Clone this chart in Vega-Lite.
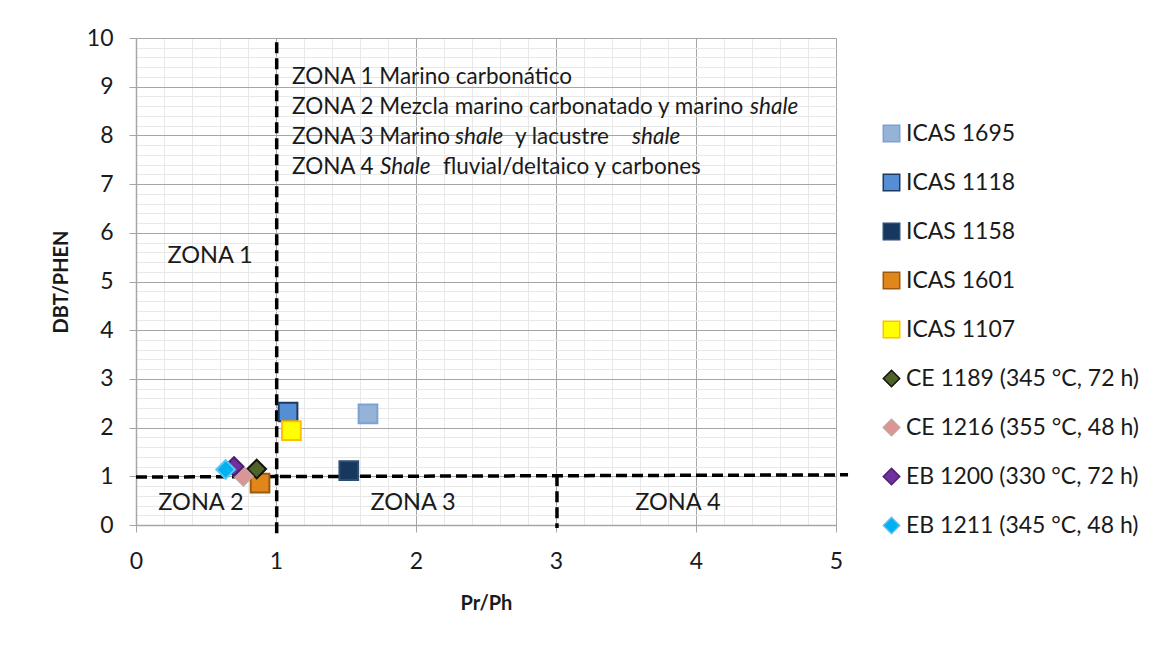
{
  "$schema": "https://vega.github.io/schema/vega-lite/v6.json",
  "width": 700,
  "height": 487,
  "autosize": {"type": "none"},
  "padding": {"left": 136, "top": 38, "right": 338, "bottom": 121},
  "background": "white",
  "datasets": {
    "puntos": [
      {"serie": "ICAS 1695", "prph": 1.657, "dbt": 2.28},
      {"serie": "ICAS 1118", "prph": 1.086, "dbt": 2.32},
      {"serie": "ICAS 1158", "prph": 1.52, "dbt": 1.115},
      {"serie": "ICAS 1601", "prph": 0.886, "dbt": 0.86},
      {"serie": "ICAS 1107", "prph": 1.11, "dbt": 1.94},
      {"serie": "CE 1189 (345 °C, 72 h)", "prph": 0.862, "dbt": 1.15},
      {"serie": "CE 1216 (355 °C, 48 h)", "prph": 0.767, "dbt": 1.0},
      {"serie": "EB 1200 (330 °C, 72 h)", "prph": 0.70, "dbt": 1.2},
      {"serie": "EB 1211 (345 °C, 48 h)", "prph": 0.64, "dbt": 1.14}
    ],
    "limites": [
      {"x": 1.005, "y": -0.17, "x2": 1.005, "y2": 10},
      {"x": 0, "y": 0.985, "x2": 5.086, "y2": 1.03},
      {"x": 3.007, "y": 1.02, "x2": 3.007, "y2": -0.06}
    ],
    "texto": [
      {"tx": 1.114, "ty": 9.2, "label": "ZONA 1 Marino carbonático"},
      {"tx": 1.114, "ty": 8.583, "label": "ZONA 2 Mezcla marino carbonatado y marino"},
      {"tx": 1.114, "ty": 7.967, "label": "ZONA 3 Marino"},
      {"tx": 2.707, "ty": 7.967, "label": "y  lacustre"},
      {"tx": 1.114, "ty": 7.351, "label": "ZONA 4"},
      {"tx": 2.193, "ty": 7.351, "label": "fluvial/deltaico  y carbones"}
    ],
    "cursiva": [
      {"tx": 4.386, "ty": 8.583, "label": "shale"},
      {"tx": 2.279, "ty": 7.967, "label": "shale"},
      {"tx": 3.543, "ty": 7.967, "label": "shale"},
      {"tx": 1.743, "ty": 7.351, "label": "Shale"}
    ],
    "zonas": [
      {"tx": 0.529, "ty": 5.524, "label": "ZONA 1"},
      {"tx": 0.464, "ty": 0.452, "label": "ZONA 2"},
      {"tx": 1.979, "ty": 0.452, "label": "ZONA 3"},
      {"tx": 3.871, "ty": 0.452, "label": "ZONA 4"}
    ]
  },
  "resolve": {"axis": {"x": "independent", "y": "independent"}},
  "layer": [
    {
      "data": {"name": "limites"},
      "mark": {"type": "rule", "color": "black", "strokeWidth": 3.5, "strokeDash": [11, 5]},
      "encoding": {
        "x": {"field": "x", "type": "quantitative", "scale": {"domain": [0, 5], "nice": false, "zero": false},
          "axis": {"orient": "top", "values": [0.2,0.4,0.6,0.8,1.2,1.4,1.6,1.8,2.2,2.4,2.6,2.8,3.2,3.4,3.6,3.8,4.2,4.4,4.6,4.8],
            "grid": true, "gridColor": "#E8E8E8", "gridWidth": 1, "labels": false, "ticks": false, "domain": false, "title": null}},
        "y": {"field": "y", "type": "quantitative", "scale": {"domain": [0, 10], "nice": false, "zero": false},
          "axis": {"orient": "right", "values": [0.2,0.4,0.6,0.8,1.2,1.4,1.6,1.8,2.2,2.4,2.6,2.8,3.2,3.4,3.6,3.8,4.2,4.4,4.6,4.8,5.2,5.4,5.6,5.8,6.2,6.4,6.6,6.8,7.2,7.4,7.6,7.8,8.2,8.4,8.6,8.8,9.2,9.4,9.6,9.8],
            "grid": true, "gridColor": "#E8E8E8", "gridWidth": 1, "labels": false, "ticks": false, "domain": false, "title": null}},
        "x2": {"field": "x2"},
        "y2": {"field": "y2"}
      }
    },
    {
      "data": {"name": "texto"},
      "mark": {"type": "text", "align": "left", "baseline": "middle", "fontSize": 22.5, "font": "Lato", "color": "#1a1a1a"},
      "encoding": {
        "x": {"field": "tx", "type": "quantitative",
          "axis": {"orient": "bottom", "values": [0,1,2,3,4,5], "grid": true, "gridColor": "#A6A6A6", "gridWidth": 1,
            "domainColor": "#A6A6A6", "domainWidth": 1.5, "tickColor": "#A6A6A6", "tickSize": 7,
            "labelFont": "Lato", "labelFontSize": 23, "labelColor": "#1a1a1a", "labelPadding": 18, "labelFlush": false,
            "title": "Pr/Ph", "titleFont": "Lato", "titleFontSize": 20, "titleFontWeight": "bold", "titleColor": "#1a1a1a",
            "titleY": 78, "titleBaseline": "middle"}},
        "y": {"field": "ty", "type": "quantitative",
          "axis": {"orient": "left", "values": [0,1,2,3,4,5,6,7,8,9,10], "grid": true, "gridColor": "#A6A6A6", "gridWidth": 1,
            "domainColor": "#A6A6A6", "domainWidth": 1.5, "tickColor": "#A6A6A6", "tickSize": 7,
            "labelFont": "Lato", "labelFontSize": 23, "labelColor": "#1a1a1a", "labelPadding": 16, "labelFlush": false,
            "title": "DBT/PHEN", "titleFont": "Lato", "titleFontSize": 20, "titleFontWeight": "bold", "titleColor": "#1a1a1a",
            "titleX": -75, "titleBaseline": "middle"}},
        "text": {"field": "label"}
      }
    },
    {
      "data": {"name": "cursiva"},
      "mark": {"type": "text", "align": "left", "baseline": "middle", "fontSize": 22.5, "fontStyle": "italic", "font": "Lato", "color": "#1a1a1a"},
      "encoding": {
        "x": {"field": "tx", "type": "quantitative", "axis": null},
        "y": {"field": "ty", "type": "quantitative", "axis": null},
        "text": {"field": "label"}
      }
    },
    {
      "data": {"name": "zonas"},
      "mark": {"type": "text", "align": "center", "baseline": "middle", "fontSize": 23.5, "font": "Lato", "color": "#1a1a1a"},
      "encoding": {
        "x": {"field": "tx", "type": "quantitative", "axis": null},
        "y": {"field": "ty", "type": "quantitative", "axis": null},
        "text": {"field": "label"}
      }
    },
    {
      "data": {"name": "puntos"},
      "mark": {"type": "point", "filled": true, "size": 350, "strokeWidth": 2, "opacity": 1},
      "encoding": {
        "x": {"field": "prph", "type": "quantitative", "axis": null},
        "y": {"field": "dbt", "type": "quantitative", "axis": null},
        "fill": {"field": "serie", "type": "nominal",
          "scale": {"domain": ["ICAS 1695","ICAS 1118","ICAS 1158","ICAS 1601","ICAS 1107","CE 1189 (345 °C, 72 h)","CE 1216 (355 °C, 48 h)","EB 1200 (330 °C, 72 h)","EB 1211 (345 °C, 48 h)"],
            "range": ["#95B3D7","#558ED5","#17375E","#E0861A","#FFFF00","#4F6228","#D99694","#7030A0","#00B0F0"]},
          "legend": {"title": null}},
        "stroke": {"field": "serie", "type": "nominal",
          "scale": {"domain": ["ICAS 1695","ICAS 1118","ICAS 1158","ICAS 1601","ICAS 1107","CE 1189 (345 °C, 72 h)","CE 1216 (355 °C, 48 h)","EB 1200 (330 °C, 72 h)","EB 1211 (345 °C, 48 h)"],
            "range": ["#7DA1D1","#1F3A60","#2C4D75","#9C5A0E","#FFC000","#111111","#C9A0A0","#4B1F6E","#5AC8F0"]},
          "legend": {"title": null}},
        "shape": {"field": "serie", "type": "nominal",
          "scale": {"domain": ["ICAS 1695","ICAS 1118","ICAS 1158","ICAS 1601","ICAS 1107","CE 1189 (345 °C, 72 h)","CE 1216 (355 °C, 48 h)","EB 1200 (330 °C, 72 h)","EB 1211 (345 °C, 48 h)"],
            "range": ["square","square","square","square","square","diamond","diamond","diamond","diamond"]},
          "legend": {"title": null}}
      }
    }
  ],
  "config": {
    "view": {"stroke": null},
    "font": "Lato",
    "legend": {
      "orient": "none", "legendX": 744, "legendY": 84, "title": null,
      "labelFont": "Lato", "labelFontSize": 23, "labelColor": "#1a1a1a", "labelLimit": 400,
      "symbolSize": 270, "symbolStrokeWidth": 1.5, "rowPadding": 25, "labelOffset": 3, "padding": 0
    }
  }
}
